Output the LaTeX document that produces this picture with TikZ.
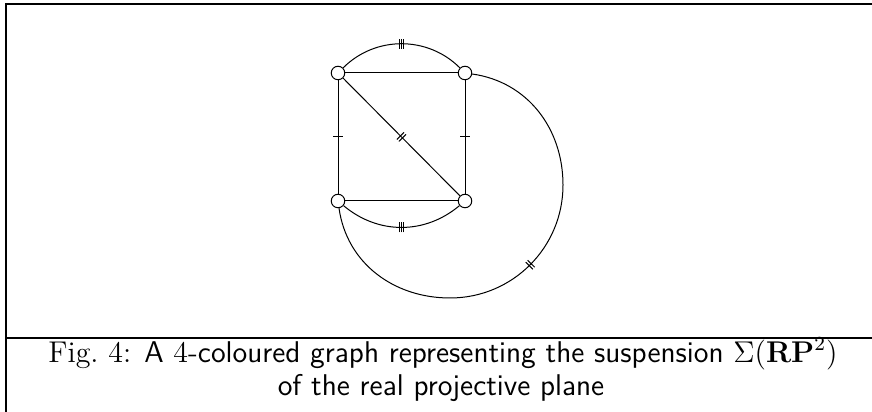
\documentclass[tikz,border=0pt]{standalone}
\usepackage{amsmath}
\usetikzlibrary{decorations.markings}
\tikzset{
  vertex/.style={circle,draw,fill=white,inner sep=0pt,minimum size=5.4pt},
  onebar/.style={postaction={decorate,decoration={markings,
      mark=at position 0.5 with {\draw (0,-2pt) -- (0,2pt);}}}},
  twobar/.style={postaction={decorate,decoration={markings,
      mark=at position 0.5 with {\draw (-0.55pt,-2pt) -- (-0.55pt,2pt);
                                  \draw (0.55pt,-2pt) -- (0.55pt,2pt);}}}},
  threebar/.style={postaction={decorate,decoration={markings,
      mark=at position 0.5 with {\draw (-0.9pt,-2pt) -- (-0.9pt,2pt);
                                  \draw (0pt,-2pt) -- (0pt,2pt);
                                  \draw (0.9pt,-2pt) -- (0.9pt,2pt);}}}}
}
\begin{document}
\begin{tikzpicture}[x=0.4pt,y=0.4pt,line width=0.4pt]
    \useasboundingbox (0,0) rectangle (872,412);

    % frame
    \draw[line width=0.8pt] (890,408) -- (6,408) -- (6,-10);
    \draw[line width=0.8pt] (6,74) -- (890,74);

    % vertices
    \node[vertex] (tl) at (338,339) {};
    \node[vertex] (tr) at (465,339) {};
    \node[vertex] (bl) at (338,211) {};
    \node[vertex] (br) at (465,211) {};
    \coordinate (east)  at (563,227);
    \coordinate (south) at (450,114);

    % edges
    \draw (tl) -- (tr);
    \draw (bl) -- (br);
    \draw[onebar] (tl) -- (bl);
    \draw[onebar] (tr) -- (br);
    \draw[twobar] (tl) -- (br);
    \draw[threebar] (tl) to[bend left=45] (tr);
    \draw[threebar] (bl) to[bend right=40] (br);
    \draw[twobar] (tr) to[out=-8,in=90] (east) to[out=-90,in=0] (south)
                       to[out=180,in=-82] (bl);

    % caption
    \node[anchor=base,inner sep=0pt,font=\fontsize{12}{13.2}\selectfont] (capone) at (443,49)
      {Fig.\ 4: \textsf{A} $4$-\textsf{coloured graph representing the suspension} $\Sigma(\mathbf{RP}^2)$};
    \node[anchor=base,inner sep=0pt,font=\fontsize{12}{13.2}\selectfont] (captwo) at (441,16)
      {\textsf{of the real projective plane}};
\end{tikzpicture}
\end{document}
